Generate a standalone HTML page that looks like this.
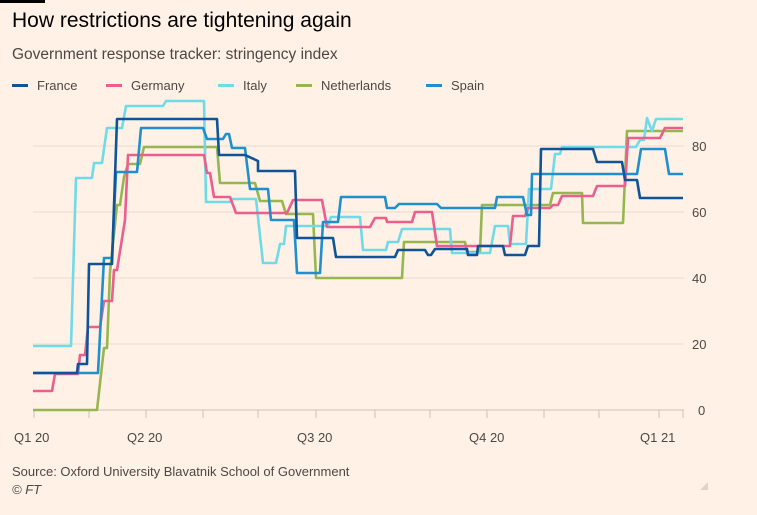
<!DOCTYPE html>
<html><head><meta charset="utf-8"><style>
body{margin:0;background:#fff1e5;font-family:"Liberation Sans",sans-serif;}
svg{display:block}
</style></head><body>
<svg width="757" height="515" viewBox="0 0 757 515" xmlns="http://www.w3.org/2000/svg">
<rect width="757" height="515" fill="#fff1e5"/>
<rect x="0" y="0" width="45" height="3" fill="#000"/>
<text x="12" y="27" font-size="21" fill="#000">How restrictions are tightening again</text>
<text x="12" y="59" font-size="15.5" fill="#4d4845">Government response tracker: stringency index</text>
<g font-size="13" fill="#4d4845">
<rect x="12" y="84" width="16" height="3" fill="#0f5499"/><text x="37" y="90">France</text>
<rect x="106" y="84" width="16" height="3" fill="#eb5e8d"/><text x="131" y="90">Germany</text>
<rect x="218" y="84" width="16" height="3" fill="#70dbe8"/><text x="243" y="90">Italy</text>
<rect x="296" y="84" width="16" height="3" fill="#96b64f"/><text x="321" y="90">Netherlands</text>
<rect x="426" y="84" width="16" height="3" fill="#208fce"/><text x="451" y="90">Spain</text>
</g>
<g stroke="#e9dcd0" stroke-width="1">
<line x1="33" x2="684" y1="146" y2="146"/><line x1="33" x2="684" y1="212" y2="212"/>
<line x1="33" x2="684" y1="278" y2="278"/><line x1="33" x2="684" y1="344" y2="344"/>
</g>
<line x1="33" x2="684" y1="410" y2="410" stroke="#ccc1b7"/>
<g stroke="#ccc1b7"><line x1="34" x2="34" y1="410" y2="418"/><line x1="89" x2="89" y1="410" y2="418"/><line x1="146" x2="146" y1="410" y2="418"/><line x1="203" x2="203" y1="410" y2="418"/><line x1="258" x2="258" y1="410" y2="418"/><line x1="316" x2="316" y1="410" y2="418"/><line x1="375" x2="375" y1="410" y2="418"/><line x1="430" x2="430" y1="410" y2="418"/><line x1="487" x2="487" y1="410" y2="418"/><line x1="544" x2="544" y1="410" y2="418"/><line x1="599" x2="599" y1="410" y2="418"/><line x1="659" x2="659" y1="410" y2="418"/><line x1="683" x2="683" y1="410" y2="418"/></g>
<g font-size="13" fill="#4d4845">
<text x="692" y="151">80</text><text x="692" y="217">60</text><text x="692" y="283">40</text><text x="692" y="349">20</text><text x="698" y="415">0</text>
<text x="14" y="442">Q1 20</text><text x="127" y="442">Q2 20</text><text x="297" y="442">Q3 20</text><text x="469" y="442">Q4 20</text><text x="640" y="442">Q1 21</text>
<text x="12" y="476">Source: Oxford University Blavatnik School of Government</text>
<text x="12" y="494" font-style="italic">© FT</text>
</g>
<g fill="none" stroke-width="2.6" stroke-linejoin="round">
<path stroke="#96b64f" d="M33 410H97L104 348L107 348L110 272L117 205H120L124 177L128 164H140L144 147H217L220 183H255L260 201H282L286 214H313L316 278H402L404 242H465L467 252H480L482 205H550L553 193H582L583 223H623L627 131H683"/>
<path stroke="#70dbe8" d="M33 346H71L76 178H92L94 163H102L107 128H122L126 106H163L166 101H204L206 202H230L232 199H256L263 263H276L280 244H284L286 226H328L331 217H360L363 250H386L388 242H398L402 229H450L452 253H490L495 226H508L510 244H526L529 189H551L555 154H560L562 147H636L640 140H644L647 118L652 131L656 119H683"/>
<path stroke="#eb5e8d" d="M33 391H52L55 374H78L80 355H85L88 327H100L104 301H112L114 270H117L125 220L128 155H204L207 173H210L214 197H230L236 213H287L293 200H322L327 227H370L375 218H386L387 222H412L415 212H432L437 246H510L513 216H525L528 208H550L553 205H558L562 196H593L597 186H625L628 138H660L665 128H683"/>
<path stroke="#208fce" d="M33 373H98L104 258H112L116 172H137L141 128H203L207 139H223L226 134H229L232 148H245L250 189H268L271 220H294L297 273H320L323 222H338L341 197H385L387 208H395L399 204H437L441 208H495L497 197H523L527 215H531L532 174H637L641 149H665L669 174H683"/>
<path stroke="#0f5499" d="M33 373H77L78 364H87L89 264H112L117 119H217L219 155H245L258 161V171H295L297 238H333L336 257H395L398 250H425L428 255H431L435 249H467L468 255H477L478 246H503L505 255H525L528 246H539L541 149H593L597 162H622L625 180H637L640 198H683"/>
</g>
<path d="M700 490L708 482V490Z" fill="#e0d4c8"/>
</svg>
</body></html>
